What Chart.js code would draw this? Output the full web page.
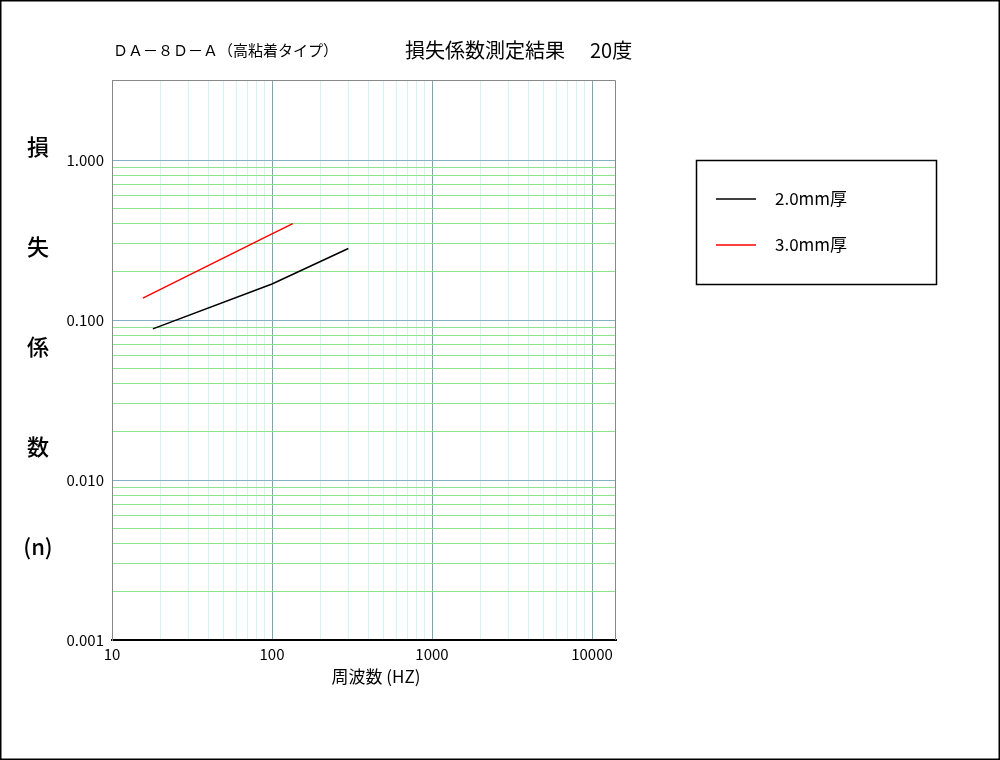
<!DOCTYPE html>
<html>
<head>
<meta charset="utf-8">
<script src="https://cdn.jsdelivr.net/npm/chart.js@4/dist/chart.umd.min.js"></script>
<style>
  body { margin: 0; background: #fff; }
  canvas { display: block; }
</style>
</head>
<body>
<canvas id="lossChart" width="1000" height="760"></canvas>
<script>
// Series (frequency in Hz, loss factor n)
var seriesLabels = ['2.0mm厚', '3.0mm厚'];
var seriesColors = ['#000000', '#ff0000'];
var freq20 = [18, 100, 300];
var loss20 = [0.088, 0.168, 0.28];
var freq30 = [15.6, 100, 135];
var loss30 = [0.137, 0.345, 0.40];

// Axis decades and their labels
var xMajor = [10, 100, 1000, 10000];
var xLabels = ['10', '100', '1000', '10000'];
var yMajor = [0.001, 0.01, 0.1, 1];
var yLabels = ['0.001', '0.010', '0.100', '1.000'];
var minorSteps = [1, 2, 3, 4, 5, 6, 7, 8, 9];

var titleLeft = 'ＤＡ－８Ｄ－Ａ（高粘着タイプ）';
var titleMid = '損失係数測定結果';
var titleRight = '20度';
var yTitleChars = ['損', '失', '係', '数', '(n)'];
var xTitle = '周波数 (HZ)';

var jpFont = "'Noto Sans CJK JP', 'Noto Sans', sans-serif";

function toPoints(xs, ys) {
    return xs.map(function(x, i) { return {x: x, y: ys[i]}; });
}

// 1..9 times each decade, stopping at the last labelled decade
function logTicks(majors) {
    var last = majors[majors.length - 1];
    var out = [];
    majors.forEach(function(d) {
        minorSteps.forEach(function(m) {
            var v = parseFloat((d * m).toPrecision(6));
            if (v <= last) out.push({value: v});
        });
    });
    return out;
}

var X_MAX = Math.pow(10, 4.15);
var Y_MAX = Math.pow(10, 0.5);

// Frame, titles, stacked y title and the boxed legend
var decorPlugin = {
    id: 'decor',
    beforeDatasetsDraw: function(chart) {
        var ctx = chart.ctx, a = chart.chartArea;
        ctx.save();
        ctx.strokeStyle = '#888';
        ctx.lineWidth = 1;
        ctx.beginPath();
        ctx.moveTo(a.left, a.top + 0.5);
        ctx.lineTo(a.right - 0.5, a.top + 0.5);
        ctx.lineTo(a.right - 0.5, a.bottom);
        ctx.stroke();
        ctx.restore();
    },
    afterDraw: function(chart) {
        var ctx = chart.ctx, a = chart.chartArea;
        ctx.save();
        // outer frame
        ctx.strokeStyle = '#000';
        ctx.lineWidth = 1.5;
        ctx.strokeRect(0.75, 0.75, 998.5, 758.5);

        // title line
        ctx.fillStyle = '#000';
        ctx.textBaseline = 'middle';
        ctx.textAlign = 'left';
        ctx.font = '15px ' + jpFont;
        ctx.fillText(titleLeft, 113, 50);
        ctx.font = '20px ' + jpFont;
        ctx.fillText(titleMid, 405, 50);
        ctx.fillText(titleRight, 590, 50);

        // x title, a little right of centre as in the original
        ctx.textAlign = 'center';
        ctx.font = '17px ' + jpFont;
        ctx.fillText(xTitle, (a.left + a.right) / 2 + 12, 677);

        // vertical y title
        ctx.font = '500 22px ' + jpFont;
        yTitleChars.forEach(function(ch, i) {
            ctx.fillText(ch, 38, 147 + i * 100);
        });

        // legend box
        ctx.lineWidth = 1.5;
        ctx.strokeRect(696.5, 160.5, 240, 124);
        ctx.textAlign = 'left';
        ctx.font = '17px ' + jpFont;
        chart.data.datasets.forEach(function(ds, i) {
            var y = 199 + i * 46;
            ctx.strokeStyle = ds.borderColor;
            ctx.lineWidth = 1.5;
            ctx.beginPath();
            ctx.moveTo(716, y);
            ctx.lineTo(756, y);
            ctx.stroke();
            ctx.fillStyle = '#000';
            ctx.fillText(ds.label, 775, y);
        });
        ctx.restore();
    }
};

var ctx = document.getElementById('lossChart').getContext('2d');
var chart = new Chart(ctx, {
    type: 'line',
    data: {
        datasets: [
            {
                label: seriesLabels[0],
                data: toPoints(freq20, loss20),
                borderColor: seriesColors[0],
                borderWidth: 1.5,
                pointRadius: 0,
                tension: 0,
                fill: false
            },
            {
                label: seriesLabels[1],
                data: toPoints(freq30, loss30),
                borderColor: seriesColors[1],
                borderWidth: 1.5,
                pointRadius: 0,
                tension: 0,
                fill: false
            }
        ]
    },
    options: {
        responsive: false,
        animation: false,
        layout: {padding: {top: 80, right: 384, left: 0, bottom: 72}},
        plugins: {
            legend: {display: false},
            tooltip: {enabled: false}
        },
        scales: {
            x: {
                type: 'logarithmic',
                min: 10,
                max: X_MAX,
                afterBuildTicks: function(scale) { scale.ticks = logTicks(xMajor); },
                afterFit: function(scale) { scale.height = 48; },
                border: {color: '#000', width: 2},
                grid: {
                    drawTicks: false,
                    lineWidth: 1,
                    color: function(c) {
                        return xMajor.indexOf(c.tick.value) >= 0 ? '#74aab4' : '#d2f5f0';
                    }
                },
                ticks: {
                    autoSkip: false,
                    maxRotation: 0,
                    padding: 5,
                    color: '#000',
                    font: {family: jpFont, size: 15},
                    callback: function(v) {
                        var i = xMajor.indexOf(v);
                        return i >= 0 ? xLabels[i] : '';
                    }
                }
            },
            y: {
                type: 'logarithmic',
                min: 0.001,
                max: Y_MAX,
                afterBuildTicks: function(scale) { scale.ticks = logTicks(yMajor); },
                afterFit: function(scale) { scale.width = 112; },
                border: {color: '#888', width: 1},
                grid: {
                    drawTicks: false,
                    lineWidth: 1,
                    color: function(c) {
                        return yMajor.indexOf(c.tick.value) >= 0 ? '#86b0c4' : '#8ee48e';
                    }
                },
                ticks: {
                    autoSkip: false,
                    padding: 8,
                    color: '#000',
                    font: {family: jpFont, size: 15},
                    callback: function(v) {
                        var i = yMajor.indexOf(v);
                        return i >= 0 ? yLabels[i] : '';
                    }
                }
            }
        }
    },
    plugins: [decorPlugin]
});
</script>
</body>
</html>
